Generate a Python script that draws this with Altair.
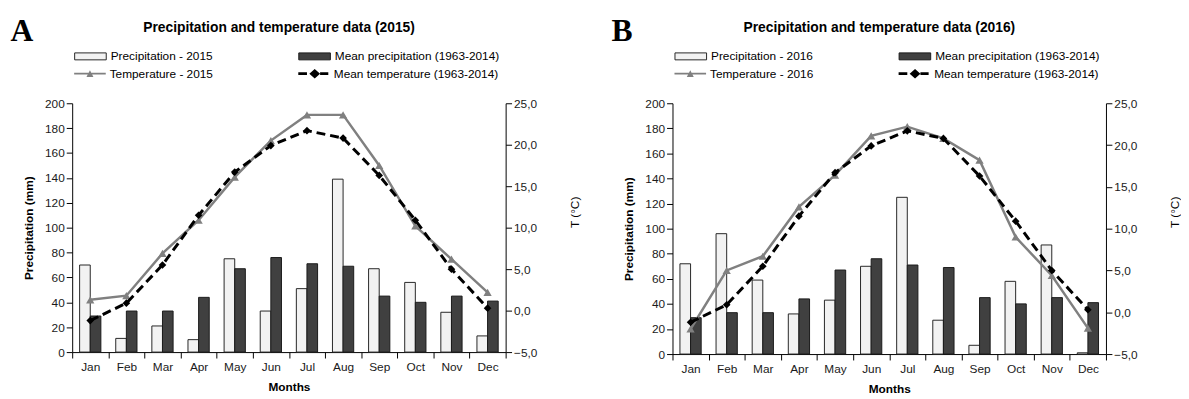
import altair as alt
import pandas as pd

months = ["Jan", "Feb", "Mar", "Apr", "May", "Jun", "Jul", "Aug", "Sep", "Oct", "Nov", "Dec"]
precip_2015 = [70, 11, 21, 10, 75, 33, 51, 139, 67, 56, 32, 13]
precip_2016 = [72, 96, 59, 32, 43, 70, 125, 27, 7, 58, 87, 1]
precip_mean = [29, 33, 33, 44, 67, 76, 71, 69, 45, 40, 45, 41]
temp_2015 = [1.3, 1.8, 6.9, 10.9, 16.1, 20.5, 23.6, 23.6, 17.5, 10.2, 6.2, 2.2]
temp_2016 = [-2.0, 5.0, 6.7, 12.6, 16.4, 21.1, 22.2, 20.8, 18.2, 9.0, 4.4, -1.9]
temp_mean = [-1.2, 0.9, 5.5, 11.5, 16.7, 19.9, 21.7, 20.8, 16.3, 10.9, 5.0, 0.3]

FONT = "Liberation Sans"
PATH_RECT = "M-1,-0.22H1V0.22H-1Z"
PATH_TRI = "M-1,-0.06H1V0.06H-1Z M-0.22,0.22L0,-0.22L0.22,0.22Z"
PATH_DIA = "M-1,-0.09H-0.45V0.09H-1Z M-0.3,0L0.04,-0.3L0.38,0L0.04,0.3Z M0.38,-0.09H0.9V0.09H0.38Z"

W = 439
COL1_X, COL2_X = 2, 229
ROW1_Y, ROW2_Y = -64, -46


def leg(x, y, path, fill, stroke=None):
    return alt.Legend(orient="none", legendX=x, legendY=y, title=None, symbolType=path,
                      symbolSize=1024, labelFontSize=12, labelFont=FONT, labelColor="#000",
                      labelOffset=4, labelLimit=400, padding=0, symbolFillColor=fill,
                      symbolStrokeColor=stroke if stroke else fill,
                      symbolStrokeWidth=1 if stroke else 0, symbolOpacity=1)


def panel(year, letter, precip, temp, H):
    lab_p = f"Precipitation - {year}"
    lab_mp = "Mean precipitation (1963-2014)"
    lab_t = f"Temperature - {year}"
    lab_mt = "Mean temperature (1963-2014)"

    dfb = pd.DataFrame({"month": months * 2,
                        "grp": ["a"] * 12 + ["b"] * 12,
                        "series": [lab_p] * 12 + [lab_mp] * 12,
                        "value": precip + precip_mean})
    dft = pd.DataFrame({"month": months * 2,
                        "series": [lab_t] * 12 + [lab_mt] * 12,
                        "value": temp + temp_mean})

    x = alt.X("month:N", sort=months,
              scale=alt.Scale(paddingInner=0, paddingOuter=0),
              axis=alt.Axis(title="Months", titleFont=FONT, titleFontSize=12,
                            titleFontWeight="bold", titleColor="#000", titlePadding=9,
                            labelFont=FONT, labelFontSize=12, labelColor="#1a1a1a",
                            labelAngle=0, labelPadding=4, tickBand="extent",
                            tickSize=6, tickColor="#000", domainColor="#000"))
    xoff = alt.XOffset("grp:N", scale=alt.Scale(domain=["a", "b"],
                                                paddingOuter=0.7, paddingInner=0))
    yprec_axis = alt.Axis(title="Precipitation (mm)", titleFont=FONT, titleFontSize=12,
                          titleFontWeight="bold", titleColor="#000", titlePadding=9,
                          labelFont=FONT, labelFontSize=12, labelColor="#1a1a1a",
                          values=list(range(0, 201, 20)), tickSize=6, tickColor="#000",
                          domainColor="#000")
    yprec_scale = alt.Scale(domain=[0, 200], nice=False)
    ytemp_axis = alt.Axis(title="T (°C)", orient="right", titleFont=FONT, titleFontSize=12,
                          titleFontWeight="normal", titleColor="#000", titlePadding=45,
                          titleAngle=270, titleY=110,
                          labelFont=FONT, labelFontSize=12, labelColor="#1a1a1a",
                          values=list(range(-5, 26, 5)), tickSize=6, tickColor="#000",
                          domainColor="#000",
                          labelExpr="replace(format(datum.value, '.1f'), '.', ',')")
    ytemp_scale = alt.Scale(domain=[-5, 25], nice=False)

    bars_base = alt.Chart(dfb)
    bar1 = bars_base.transform_filter(alt.datum.grp == "a").mark_bar(
        stroke="#262626", strokeWidth=1).encode(
        x=x, xOffset=xoff,
        y=alt.Y("value:Q", scale=yprec_scale, axis=yprec_axis),
        fill=alt.Fill("series:N", scale=alt.Scale(domain=[lab_p], range=["#f2f2f2"]),
                      legend=leg(COL1_X, ROW1_Y, PATH_RECT, "#f2f2f2", "#262626")))
    bar2 = bars_base.transform_filter(alt.datum.grp == "b").mark_bar(
        stroke="#1a1a1a", strokeWidth=1).encode(
        x=x, xOffset=xoff,
        y=alt.Y("value:Q", scale=yprec_scale, axis=None),
        fill=alt.Fill("series:N", scale=alt.Scale(domain=[lab_mp], range=["#404040"]),
                      legend=leg(COL2_X, ROW1_Y, PATH_RECT, "#404040", "#1a1a1a")))

    tb = alt.Chart(dft)
    line1 = tb.transform_filter(alt.datum.series == lab_t).mark_line(strokeWidth=2.5).encode(
        x=x, y=alt.Y("value:Q", scale=ytemp_scale, axis=ytemp_axis),
        color=alt.Color("series:N", scale=alt.Scale(domain=[lab_t], range=["#808080"]),
                        legend=leg(COL1_X, ROW2_Y, PATH_TRI, "#808080")))
    pts1 = tb.transform_filter(alt.datum.series == lab_t).mark_point(
        filled=True, shape="triangle-up", size=70, color="#808080", opacity=1).encode(
        x=x, y=alt.Y("value:Q", scale=ytemp_scale, axis=None))
    line2 = tb.transform_filter(alt.datum.series == lab_mt).mark_line(
        strokeWidth=3, strokeDash=[9, 5]).encode(
        x=x, y=alt.Y("value:Q", scale=ytemp_scale, axis=None),
        color=alt.Color("series:N", scale=alt.Scale(domain=[lab_mt], range=["#000000"]),
                        legend=leg(COL2_X, ROW2_Y, PATH_DIA, "#000000")))
    pts2 = tb.transform_filter(alt.datum.series == lab_mt).mark_point(
        filled=True, shape="diamond", size=60, color="#000", opacity=1).encode(
        x=x, y=alt.Y("value:Q", scale=ytemp_scale, axis=None))

    lett = alt.Chart(pd.DataFrame({"t": [letter]})).mark_text(
        font="Liberation Serif", fontSize=32, fontWeight="bold", color="#000",
        align="center", baseline="alphabetic").encode(
        text="t:N", x=alt.value(-51), y=alt.value(-63))

    return alt.layer(bar1, bar2, line1, pts1, line2, pts2, lett).resolve_scale(
        y="independent", fill="independent", color="independent").properties(
        width=W, height=H,
        title=alt.TitleParams(f"Precipitation and temperature data ({year})",
                              font=FONT, fontSize=14, fontWeight="bold", color="#000",
                              anchor="middle", frame="group", offset=-20, dx=-10))


chart = alt.hconcat(panel(2015, "A", precip_2015, temp_2015, 252),
                    panel(2016, "B", precip_2016, temp_2016, 254), spacing=31).configure_view(
    stroke=None).configure_axis(grid=False).properties(
    padding={"left": 2, "top": 5, "right": 0, "bottom": 0})

chart.save("out.html", embed_options={"renderer": "svg", "actions": False})
